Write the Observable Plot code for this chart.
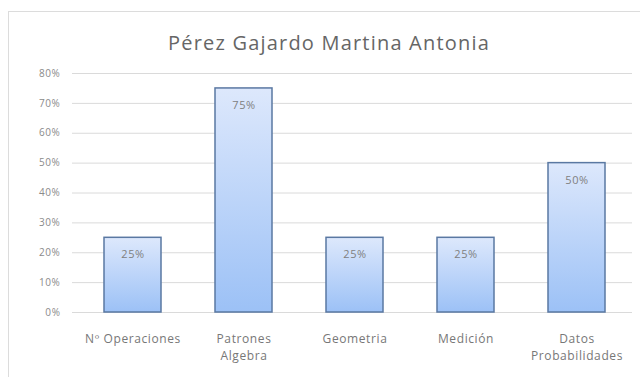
<!DOCTYPE html>
<html>
<head>
<meta charset="utf-8">
<script src="https://cdn.jsdelivr.net/npm/d3@7"></script>
<script src="https://cdn.jsdelivr.net/npm/@observablehq/plot@0.6"></script>
<style>
  html, body { margin: 0; padding: 0; background: #fff; }
  #wrap { position: relative; width: 640px; height: 377px; overflow: hidden; font-family: "Open Sans", sans-serif; }
  #frame { position: absolute; left: 8px; top: 11px; width: 640px; height: 400px; border: 1px solid #dcdcdc; box-sizing: border-box; }
  #title { position: relative; height: 60px; line-height: 86px; text-align: center; padding-left: 18px; font-size: 20px; letter-spacing: 1.2px; color: #666; white-space: nowrap; }
  #chart { position: relative; }
  #chart svg text { letter-spacing: 0.6px; }
</style>
</head>
<body>
<div id="wrap">
  <div id="frame"></div>
  <div id="title">Pérez Gajardo Martina Antonia</div>
  <div id="chart"></div>
</div>
<script>
const categories = ["Nº Operaciones", "Patrones\nAlgebra", "Geometria", "Medición", "Datos\nProbabilidades"];
const values = [0.25, 0.75, 0.25, 0.25, 0.50];
const yTicks = [0, 0.1, 0.2, 0.3, 0.4, 0.5, 0.6, 0.7, 0.8];

const data = categories.map((c, i) => ({category: c, value: values[i]}));

const gradientDefs = () => {
  const defs = d3.create("svg:defs");
  const g = defs.append("linearGradient").attr("id", "barGrad").attr("x1", 0).attr("y1", 0).attr("x2", 0).attr("y2", 1);
  g.append("stop").attr("offset", "0%").attr("stop-color", "#dde8fc");
  g.append("stop").attr("offset", "100%").attr("stop-color", "#9cc1f6");
  return defs.node();
};

const chart = Plot.plot({
  width: 640,
  height: 317,
  marginTop: 13,
  marginBottom: 65,
  marginLeft: 72,
  marginRight: 8,
  style: {fontFamily: "Open Sans, sans-serif", fontSize: "11px", color: "#777", background: "transparent"},
  x: {domain: categories, range: [77, 632], padding: 0},
  y: {domain: [0, 0.8]},
  marks: [
    gradientDefs,
    Plot.ruleY(yTicks, {stroke: "#dadada", strokeWidth: 1}),
    Plot.axisY({ticks: yTicks, tickFormat: d => Math.round(d * 100) + "%", tickSize: 0, tickPadding: 12, fontSize: 10, fill: "#8a8a8a", label: null}),
    Plot.axisX({tickSize: 0, tickPadding: 19, fontSize: 12, fill: "#777", lineHeight: 1.4, label: null}),
    Plot.barY(data, {x: "category", y: "value", insetLeft: 27, insetRight: 27, fill: "url(#barGrad)", stroke: "#5a78a2", strokeWidth: 1.5}),
    Plot.text(data, {x: "category", y: "value", text: d => Math.round(d.value * 100) + "%", dy: 17, fontSize: 11, fill: "#808080"})
  ]
});
document.getElementById("chart").appendChild(chart);
</script>
</body>
</html>
